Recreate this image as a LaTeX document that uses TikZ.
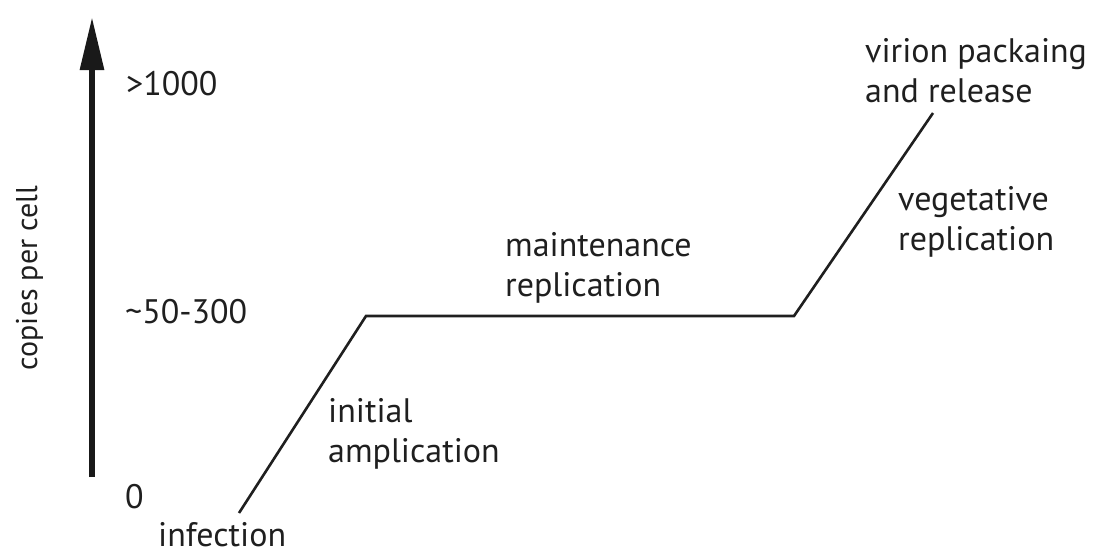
\documentclass[tikz,border=0pt]{standalone}
\usepackage{fontspec}
\setmainfont{PT Sans}
\usetikzlibrary{arrows.meta}

\tikzset{
  lbl/.style={anchor=base west, inner sep=0pt, align=left, text=black!88,
    font=\fontsize{34}{40}\selectfont},
  curve/.style={line width=2.6pt, black!88, line join=miter},
  axis/.style={line width=6pt, black!90, -{Triangle[length=53pt, width=23pt]}}
}

\begin{document}
\begin{tikzpicture}[x=1pt,y=-1pt]
\useasboundingbox (0,0) rectangle (1107,557);

% axis
\coordinate (ax0) at (92,477);
\coordinate (ax1) at (92,17);
\draw[axis] (ax0) -- (ax1);
\node[lbl, rotate=90, anchor=base, font=\fontsize{30}{36}\selectfont] (ylab) at (37,278) {copies per cell};

% Text Node
\node[lbl] (t1000) at (126,95) {>1000};
\node[lbl] (t300) at (125,323) {\textasciitilde 50-300};
\node[lbl] (t0) at (125,508) {0};

% Straight Lines
\coordinate (p0) at (239,513);
\coordinate (p1) at (366,316);
\coordinate (p2) at (794,316);
\coordinate (p3) at (933,113);
\draw[curve] (p0) -- (p1) -- (p2) -- (p3);

% Text Node (base = last line)
\node[lbl] (infect) at (158,546) {infection};
\node[lbl] (initamp) at (328,462) {initial\\amplication};
\node[lbl] (maint) at (505,296) {maintenance\\replication};
\node[lbl] (veget) at (898,250) {vegetative\\replication};
\node[lbl] (virion) at (865,102) {virion packaing\\and release};

\end{tikzpicture}
\end{document}
